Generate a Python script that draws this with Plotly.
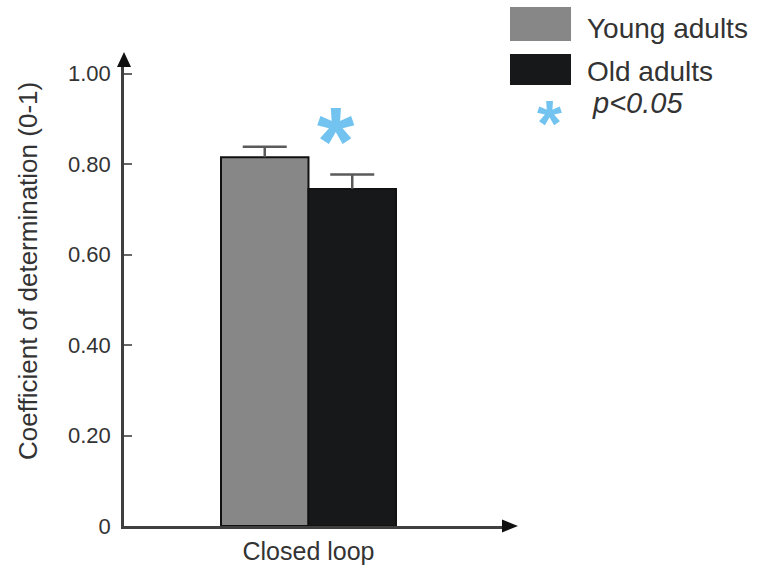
import plotly.graph_objects as go

# Data
conditions = ["Closed loop"]
groups = ["Young adults", "Old adults"]
means = [0.815, 0.745]
errors_up = [0.023, 0.032]
bar_colors = ["#878787", "#17181a"]
y_ticks = [0, 0.2, 0.4, 0.6, 0.8, 1.0]
y_tick_text = ["0", "0.20", "0.40", "0.60", "0.80", "1.00"]
significance_label = "p<0.05"

FONT = "Liberation Sans, Arial, sans-serif"
TEXT = "#333333"
AXIS = "#3f3f3f"
STAR = "#72c3f0"
ERR = "#5a5a5a"

W, H = 759, 567
L, R, T, B = 124, 255, 67, 41
BARGAP = 0.5395
PLOT_W = W - L - R

fig = go.Figure()
for name, m, c in zip(groups, means, bar_colors):
    fig.add_trace(go.Bar(
        name=name, x=conditions, y=[m],
        marker=dict(color=c, line=dict(color="#111111", width=2)),
        showlegend=False,
    ))

fig.update_layout(
    width=W, height=H,
    margin=dict(l=L, r=R, t=T, b=B, pad=0, autoexpand=False),
    paper_bgcolor="white", plot_bgcolor="white",
    barmode="group", bargap=BARGAP, bargroupgap=0,
    font=dict(family=FONT, color=TEXT),
)

fig.update_xaxes(
    range=[-0.4855, 0.5145], showgrid=False, zeroline=False, automargin=False,
    showline=True, linecolor=AXIS, linewidth=2.5, ticks="",
    tickfont=dict(size=25, color=TEXT), ticklabelstandoff=1,
)
fig.update_yaxes(
    range=[0, 1.01436], showgrid=False, zeroline=False, automargin=False,
    showline=True, linecolor=AXIS, linewidth=2.5,
    ticks="inside", ticklen=8, tickwidth=1.5, tickcolor="#666666",
    tickvals=y_ticks, ticktext=y_tick_text,
    tickfont=dict(size=22, color=TEXT), ticklabelstandoff=6,
)

# Upward-only error bars (stem + cap) at each grouped bar's centre
bar_w = (1 - BARGAP) / len(groups)
cap_half = 22 / PLOT_W
for i, (m, e) in enumerate(zip(means, errors_up)):
    xc = (i - (len(groups) - 1) / 2) * bar_w
    fig.add_shape(type="line", xref="x", yref="y", x0=xc, x1=xc, y0=m, y1=m + e,
                  line=dict(color=ERR, width=2.5), layer="above")
    fig.add_shape(type="line", xref="x", yref="y", x0=xc - cap_half, x1=xc + cap_half,
                  y0=m + e, y1=m + e, line=dict(color=ERR, width=2.5), layer="above")

# Arrowheads on the axes
fig.add_shape(type="path", xref="paper", yref="paper", xsizemode="pixel", ysizemode="pixel",
              xanchor=0, yanchor=1, path="M -7,0 L 7,0 L 0,15 Z",
              fillcolor="#111111", line=dict(width=0))
fig.add_shape(type="path", xref="paper", yref="paper", xsizemode="pixel", ysizemode="pixel",
              xanchor=1, yanchor=0, path="M -2,-6.5 L -2,6.5 L 14,0 Z",
              fillcolor="#111111", line=dict(width=0))

def px(x):
    return (x - L) / PLOT_W

def py(y):
    return (H - B - y) / (H - T - B)

# Y axis title
fig.add_annotation(text="Coefficient of determination (0-1)", textangle=-90,
                   xref="paper", yref="paper", x=px(28), y=py(271),
                   xanchor="center", yanchor="middle", showarrow=False,
                   font=dict(size=26, color=TEXT))

# Significance marker
fig.add_annotation(text="<b>*</b>", xref="paper", yref="paper", x=px(336), y=py(125),
                   xanchor="center", yanchor="middle", showarrow=False, yshift=-15,
                   font=dict(size=96, color=STAR))

# Legend
for name, c, y0, y1, ty in [(groups[0], bar_colors[0], 7, 41, 28), (groups[1], bar_colors[1], 54, 85, 71)]:
    fig.add_shape(type="rect", xref="paper", yref="paper",
                  x0=px(510), x1=px(571), y0=py(y1), y1=py(y0),
                  fillcolor=c, line=dict(width=0))
    fig.add_annotation(text=name, xref="paper", yref="paper", x=px(585), y=py(ty),
                       xanchor="left", yanchor="middle", showarrow=False,
                       font=dict(size=28, color=TEXT))
fig.add_annotation(text="<b>*</b>", xref="paper", yref="paper", x=px(549), y=py(111),
                   xanchor="center", yanchor="middle", showarrow=False, yshift=-13,
                   font=dict(size=64, color=STAR))
fig.add_annotation(text="<i>" + significance_label + "</i>", xref="paper", yref="paper",
                   x=px(590), y=py(103), xanchor="left", yanchor="middle", showarrow=False,
                   font=dict(size=29, color=TEXT))

fig.write_html("out.html")
